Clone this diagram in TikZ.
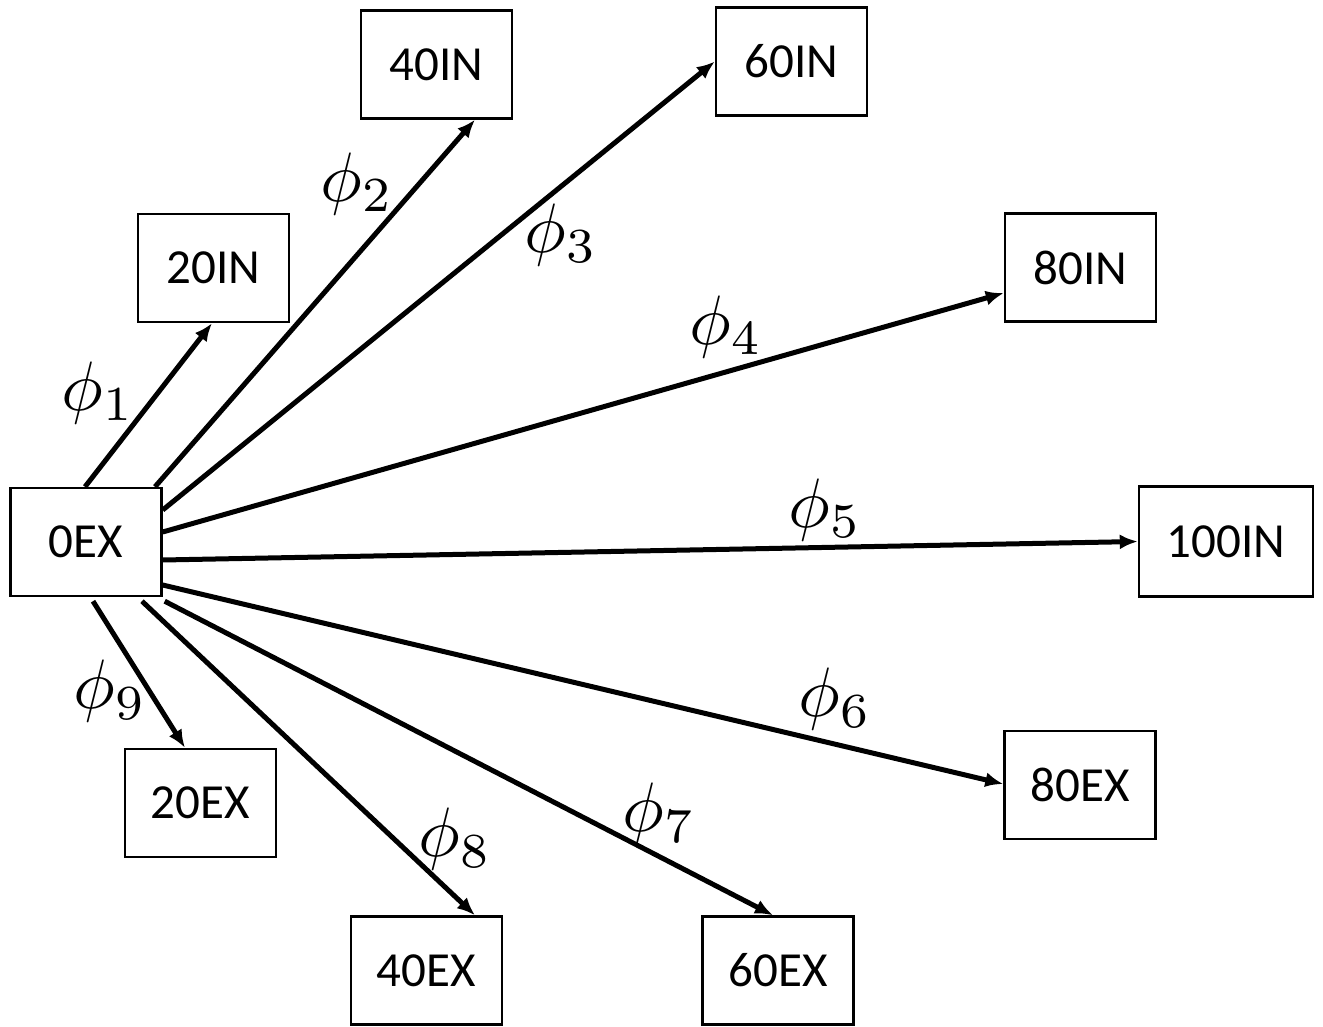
\documentclass[tikz,border=0pt]{standalone}
\usepackage{fontspec}
\setsansfont{Carlito}
\usetikzlibrary{arrows.meta}
\begin{document}
\begin{tikzpicture}[x=0.5pt,y=-0.5pt,
  box/.style={draw, line width=1.2pt, minimum width=75.5pt, minimum height=54pt, inner sep=0pt,
              font=\sffamily\fontsize{24.5}{29}\selectfont},
  arr/.style={line width=2.5pt, -{Latex[length=9pt,width=7.5pt]}},
  lab/.style={inner sep=0pt, scale=3.5}]
\useasboundingbox (0,0) rectangle (1323,1027);
% boxes
\node[box] (n0)    at (86,542)     {0EX};
\node[box] (i20)   at (213.5,268)  {20IN};
\node[box] (i40)   at (436.5,64.5) {40IN};
\node[box] (i60)   at (791.5,61.5) {60IN};
\node[box] (i80)   at (1080.5,267.5) {80IN};
\node[box, minimum width=87pt, minimum height=55pt] (i100) at (1226,541.5) {100IN};
\node[box] (e80)   at (1080,785)   {80EX};
\node[box] (e20)   at (200.5,803)  {20EX};
\node[box] (e40)   at (426.5,970.5) {40EX};
\node[box] (e60)   at (778,970.5)  {60EX};
% connectors
\draw[arr] ([xshift=-0.5pt]n0.north) -- ([xshift=-0.75pt]i20.south);
\draw[arr] ([xshift=34.5pt]n0.north) -- ([xshift=19.25pt]i40.south);
\draw[arr] ([yshift=16pt]n0.east) -- (i60.west);
\draw[arr] ([yshift=5pt]n0.east) -- ([yshift=-12.75pt]i80.west);
\draw[arr] ([yshift=-9pt]n0.east) -- (i100.west);
\draw[arr] ([yshift=-21.5pt]n0.east) -- ([yshift=0.5pt]e80.west);
\draw[arr] ([xshift=1pt,yshift=-2pt]n0.south east) -- ([xshift=-2.5pt]e60.north);
\draw[arr] ([xshift=28pt,yshift=-2pt]n0.south) -- ([xshift=24.25pt]e40.north);
\draw[arr] ([xshift=3.5pt,yshift=-2pt]n0.south) -- ([xshift=-7.75pt]e20.north);
% labels
\node[lab] (l1) at (98,393)  {$\phi_1$};
\node[lab] (l2) at (357,184) {$\phi_2$};
\node[lab] (l3) at (561,235) {$\phi_3$};
\node[lab] (l4) at (726,327) {$\phi_4$};
\node[lab] (l5) at (825,510) {$\phi_5$};
\node[lab] (l6) at (835,699) {$\phi_6$};
\node[lab] (l7) at (659,814) {$\phi_7$};
\node[lab] (l8) at (455,839) {$\phi_8$};
\node[lab] (l9) at (110,691) {$\phi_9$};
\end{tikzpicture}
\end{document}
